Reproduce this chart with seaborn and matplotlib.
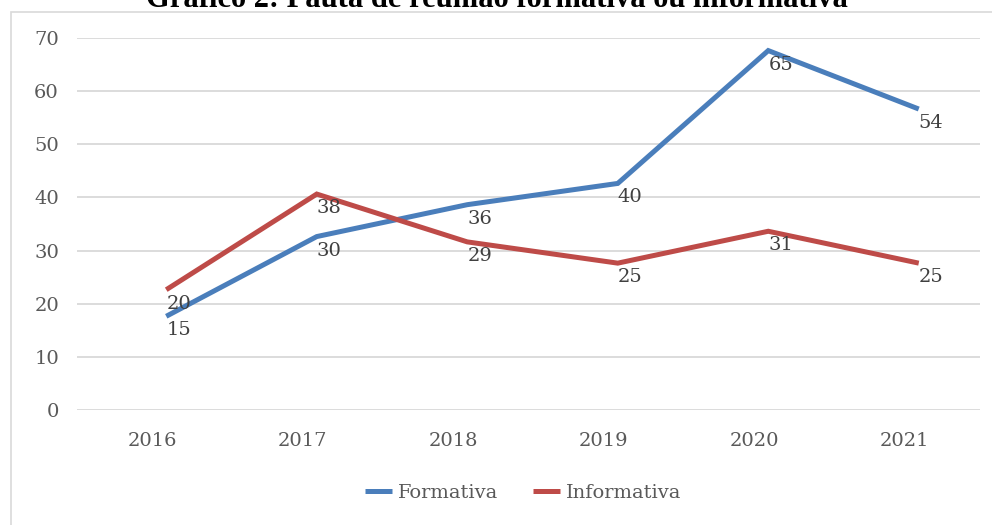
import matplotlib
matplotlib.use("Agg")
import matplotlib.pyplot as plt
import matplotlib.transforms as mtransforms
from matplotlib.patches import Rectangle
import seaborn as sns
import pandas as pd

## DATA
anos = ['2016', '2017', '2018', '2019', '2020', '2021']
formativa = [15, 30, 36, 40, 65, 54]
informativa = [20, 38, 29, 25, 31, 25]
series_names = ['Formativa', 'Informativa']
y_ticks = [0, 10, 20, 30, 40, 50, 60, 70]
titulo = 'Gráfico 2: Pauta de reunião formativa ou informativa'

df = pd.DataFrame({
    'ano': anos * 2,
    'valor': formativa + informativa,
    'serie': [series_names[0]] * len(anos) + [series_names[1]] * len(anos),
})

## STYLE
sns.set_style('white')
plt.rcParams['font.family'] = ['DejaVu Serif']
cores = {'Formativa': '#4A7EBB', 'Informativa': '#BE4B48'}

fig = plt.figure(figsize=(9.92, 5.25), dpi=100)
ax = fig.add_axes([77 / 992, 1 - 410 / 525, (980 - 77) / 992, (410 - 38) / 525])

sns.lineplot(data=df, x='ano', y='valor', hue='serie', palette=cores,
             linewidth=3.6, sort=False, ax=ax, legend=False)

#### the lines in the original are drawn shifted right/up from the axis
shift = mtransforms.offset_copy(ax.transData, fig=fig, x=14, y=14, units='dots')
for line in ax.lines:
    line.set_transform(shift)
    line.set_solid_joinstyle('miter')
    line.set_solid_capstyle('butt')

#### data labels
lab_tr = mtransforms.offset_copy(ax.transData, fig=fig, x=14, y=0, units='dots')
for vals in [formativa, informativa]:
    for i, v in enumerate(vals):
        ax.text(i, v, str(v), transform=lab_tr, ha='left', va='center',
                fontsize=14, color='#404040')

ax.set_xlim(-0.5, len(anos) - 0.5)
ax.set_ylim(0, 70)
ax.set_yticks(y_ticks)
ax.grid(axis='y', color='#D9D9D9', linewidth=1.3)
ax.set_axisbelow(True)
for s in ax.spines.values():
    s.set_visible(False)
ax.tick_params(axis='both', length=0, labelsize=14, labelcolor='#595959')
ax.tick_params(axis='y', pad=13)
ax.tick_params(axis='x', pad=16)
ax.set_xlabel('')
ax.set_ylabel('')

#### legend
handles = [plt.Line2D([], [], color=cores[n], linewidth=3.6, solid_capstyle='butt') for n in series_names]
fig.legend(handles, series_names, loc='center', bbox_to_anchor=(523 / 992, 1 - 493 / 525),
           ncol=2, frameon=False, fontsize=14, handlelength=1.4, handletextpad=0.3,
           columnspacing=1.8, labelcolor='#595959')

#### outer border and cropped title
fig.patches.append(Rectangle((11 / 992, -0.1), 1.2, 1.1 - 12 / 525, transform=fig.transFigure,
                             fill=False, edgecolor='#D9D9D9', linewidth=1.2))
fig.text(497 / 992, 1 - 7 / 525, titulo, ha='center', va='baseline',
         fontsize=22, fontweight='bold', family='Liberation Serif', color='black')

fig.savefig('out.png', dpi=100)
